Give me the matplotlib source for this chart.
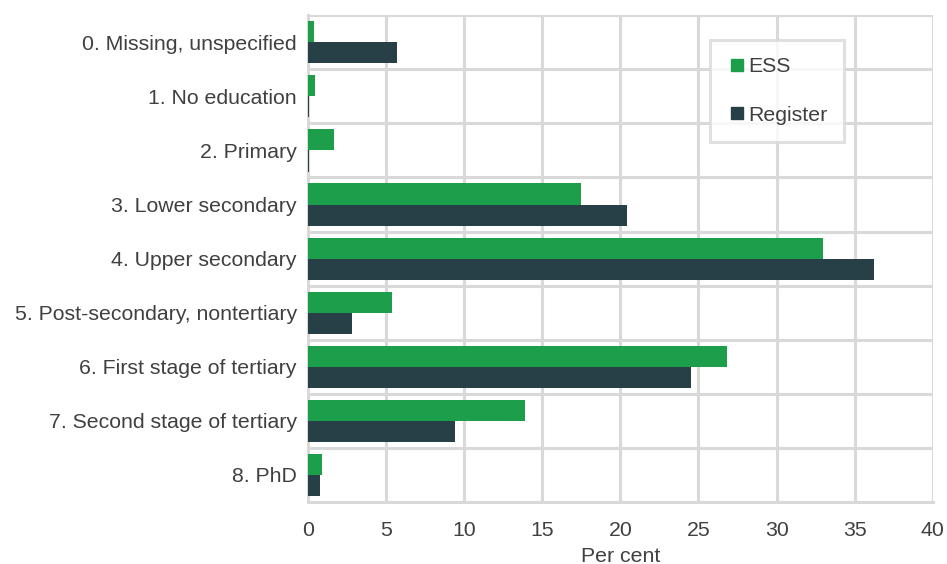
import matplotlib
matplotlib.use("Agg")
import matplotlib.pyplot as plt
import numpy as np
from matplotlib.lines import Line2D

plt.rcParams['font.family'] = ['Liberation Sans', 'DejaVu Sans']

categories = [
    "0. Missing, unspecified",
    "1. No education",
    "2. Primary",
    "3. Lower secondary",
    "4. Upper secondary",
    "5. Post-secondary, nontertiary",
    "6. First stage of tertiary",
    "7. Second stage of tertiary",
    "8. PhD",
]
ess = [0.38, 0.49, 1.66, 17.5, 32.95, 5.4, 26.8, 13.9, 0.88]
register = [5.7, 0.08, 0.08, 20.4, 36.25, 2.85, 24.5, 9.4, 0.77]
xticks = [0, 5, 10, 15, 20, 25, 30, 35, 40]

green = "#1d9e4a"
dark = "#274047"
grid_c = "#d9d9d9"
text_c = "#404040"
fs = 15.3

fig = plt.figure(figsize=(9.47, 5.64), dpi=100)
ax = fig.add_axes([0.325, 0.110, 0.66, 0.863])

y = np.arange(len(categories))
h = 0.39
ax.barh(y - h / 2, ess, height=h, color=green, zorder=3, label="ESS")
ax.barh(y + h / 2, register, height=h, color=dark, zorder=3, label="Register")

ax.set_ylim(len(categories) - 0.5, -0.5)
ax.set_xlim(0, 40)
ax.set_xticks(xticks)
ax.set_yticks(y)
ax.set_yticklabels(categories)

# category separators and vertical grid
ax.set_yticks(np.arange(-0.5, len(categories), 1), minor=True)
ax.grid(True, which="minor", axis="y", color=grid_c, lw=2.2, zorder=0)
ax.grid(True, which="major", axis="x", color=grid_c, lw=2.2, zorder=0)
ax.tick_params(axis="both", which="both", length=0)
ax.tick_params(axis="y", pad=8, labelsize=fs, colors=text_c)
ax.tick_params(axis="x", pad=13.5, labelsize=fs, colors=text_c)
for s in ax.spines.values():
    s.set_visible(False)
for side in ("left", "bottom"):
    ax.spines[side].set_visible(True)
    ax.spines[side].set_color(grid_c)
    ax.spines[side].set_linewidth(2.2)
ax.set_xlabel("Per cent", fontsize=fs, color=text_c, labelpad=5)

handles = [
    Line2D([], [], marker="s", ls="none", color=green, markersize=8),
    Line2D([], [], marker="s", ls="none", color=dark, markersize=8),
]
leg = ax.legend(handles, ["ESS", "Register"], loc="upper left",
                bbox_to_anchor=(0.643, 0.949), fontsize=fs, frameon=True,
                fancybox=False, edgecolor=grid_c, labelspacing=1.4,
                handlelength=0.95, handletextpad=0.05, borderpad=0.8,
                borderaxespad=0)
leg.get_frame().set_linewidth(2.2)
for t in leg.get_texts():
    t.set_color(text_c)

fig.savefig("out.png", dpi=100, facecolor="white")
